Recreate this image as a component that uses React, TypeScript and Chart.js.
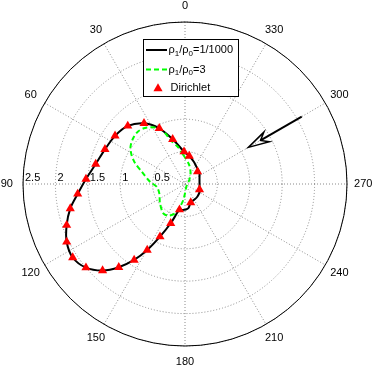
import React, { useEffect, useRef } from 'react';
import { Chart, registerables } from 'chart.js';

Chart.register(...registerables);

// ---------- axis definitions ----------
const ANGLE_TICKS = [0, 30, 60, 90, 120, 150, 180, 210, 240, 270, 300, 330];
const ANGLE_TICK_LABELS = ['0', '30', '60', '90', '120', '150', '180', '210', '240', '270', '300', '330'];
const RADIUS_TICKS = [0.5, 1, 1.5, 2, 2.5];
const RADIUS_TICK_LABELS = ['0.5', '1', '1.5', '2', '2.5'];
const R_MAX = 2.5;

// ---------- series ----------
const SERIES_LABELS = ['ρ_1/ρ_0=1/1000', 'ρ_1/ρ_0=3', 'Dirichlet'];

// rho1/rho0 = 1/1000 (black solid), angle in degrees, radius
const lowTheta = [1.7, 15.4, 24.8, 34.0, 44.6, 55.5, 66.6, 77.4, 87.1, 95.3, 102.1, 109.2, 116.1, 123.2, 130.2, 136.4, 141.5, 146.2, 150.2, 154.6, 160.0, 167.9, 173.7, 182.2, 188.3, 197.2, 213.7, 225.0, 240.0, 249.0, 270.0, 290.0, 310.0, 328.6, 337.8, 351.3];
const lowR = [0.499, 0.716, 0.947, 1.131, 1.258, 1.310, 1.346, 1.412, 1.530, 1.663, 1.811, 1.934, 2.033, 2.071, 2.001, 1.845, 1.642, 1.411, 1.174, 0.900, 0.645, 0.406, 0.402, 0.394, 0.374, 0.299, 0.280, 0.272, 0.258, 0.240, 0.224, 0.238, 0.288, 0.326, 0.367, 0.437];

// rho1/rho0 = 3 (green dashed)
const highTheta = [3.3, 10.7, 17.4, 20.5, 23.4, 27.9, 35.5, 41.8, 48.8, 55.8, 61.5, 67.2, 74.1, 86.3, 95.5, 110.0, 127.7, 143.5, 152.2, 161.2, 167.6, 174.0, 180.0, 216.6, 313.2, 335.3, 349.2];
const highR = [0.449, 0.581, 0.696, 0.807, 0.908, 0.987, 1.062, 1.087, 1.066, 1.017, 0.939, 0.837, 0.695, 0.541, 0.439, 0.422, 0.488, 0.563, 0.553, 0.478, 0.359, 0.248, 0.144, 0.039, 0.091, 0.204, 0.314];

// Dirichlet (red triangles)
const dirTheta = [1.7, 15.4, 24.8, 34.0, 44.6, 55.5, 66.6, 77.4, 87.1, 95.3, 102.1, 109.2, 116.1, 123.2, 130.2, 136.4, 141.5, 146.2, 150.2, 154.6, 160.0, 167.9, 197.2, 249.0, 314.5, 351.3];
const dirR = [0.499, 0.716, 0.947, 1.131, 1.258, 1.310, 1.346, 1.412, 1.530, 1.663, 1.811, 1.934, 2.033, 2.071, 2.001, 1.845, 1.642, 1.411, 1.174, 0.900, 0.645, 0.406, 0.299, 0.240, 0.271, 0.437];

// incident direction arrow (polar)
const ARROW_THETA = 300;
const ARROW_R_TAIL = 2.08;
const ARROW_R_TIP = 1.13;

const FONT = '"Liberation Sans", Arial, Helvetica, sans-serif';

function toXY(thetaDeg: number, r: number) {
  const a = (thetaDeg * Math.PI) / 180;
  return { x: -r * Math.sin(a), y: r * Math.cos(a) };
}

function closedPath(th: number[], rr: number[]) {
  const pts = th.map((t, i) => toXY(t, rr[i]));
  pts.push(pts[0]);
  return pts;
}

function openPoints(th: number[], rr: number[]) {
  return th.map((t, i) => toXY(t, rr[i]));
}

// draw text with "_x" subscripts
function drawRich(ctx: CanvasRenderingContext2D, text: string, x: number, y: number) {
  let cx = x;
  let i = 0;
  while (i < text.length) {
    const ch = text[i];
    if (ch === '_' && i + 1 < text.length) {
      ctx.font = `8px ${FONT}`;
      ctx.fillText(text[i + 1], cx, y + 3.5);
      cx += ctx.measureText(text[i + 1]).width;
      i += 2;
    } else {
      ctx.font = `11px ${FONT}`;
      ctx.fillText(ch, cx, y);
      cx += ctx.measureText(ch).width;
      i += 1;
    }
  }
}

const polarGrid = {
  id: 'polarGrid',
  beforeDatasetsDraw(chart: any) {
    const { ctx } = chart;
    const xs = chart.scales.x;
    const ys = chart.scales.y;
    const P = (v: { x: number; y: number }) => ({ x: xs.getPixelForValue(v.x), y: ys.getPixelForValue(v.y) });
    const c = P({ x: 0, y: 0 });
    const unit = xs.getPixelForValue(1) - c.x;
    ctx.save();
    // dotted rings
    ctx.strokeStyle = '#8a8a8a';
    ctx.lineWidth = 1;
    ctx.setLineDash([1, 2]);
    RADIUS_TICKS.forEach((r) => {
      ctx.beginPath();
      ctx.arc(c.x, c.y, r * unit, 0, Math.PI * 2);
      ctx.stroke();
    });
    // dotted spokes (full diameters)
    ANGLE_TICKS.filter((t) => t < 180).forEach((t) => {
      const a = P(toXY(t, R_MAX));
      const b = P(toXY(t + 180, R_MAX));
      ctx.beginPath();
      ctx.moveTo(a.x, a.y);
      ctx.lineTo(b.x, b.y);
      ctx.stroke();
    });
    // outer solid circle
    ctx.setLineDash([]);
    ctx.strokeStyle = '#000';
    ctx.lineWidth = 1;
    ctx.beginPath();
    ctx.arc(c.x, c.y, R_MAX * unit, 0, Math.PI * 2);
    ctx.stroke();
    // angle labels
    ctx.fillStyle = '#000';
    ctx.font = `11px ${FONT}`;
    ctx.textAlign = 'center';
    ctx.textBaseline = 'middle';
    ANGLE_TICKS.forEach((t, i) => {
      const p = P(toXY(t, R_MAX * 1.1));
      ctx.fillText(ANGLE_TICK_LABELS[i], p.x, p.y);
    });
    // radius labels along the 90 deg direction
    ctx.textAlign = 'left';
    ctx.textBaseline = 'alphabetic';
    RADIUS_TICKS.forEach((r, i) => {
      const p = P(toXY(90, r));
      ctx.fillText(RADIUS_TICK_LABELS[i], p.x + 2, c.y - 3);
    });
    ctx.restore();
  },
};

const overlay = {
  id: 'overlay',
  afterDatasetsDraw(chart: any) {
    const { ctx } = chart;
    const xs = chart.scales.x;
    const ys = chart.scales.y;
    const P = (v: { x: number; y: number }) => ({ x: xs.getPixelForValue(v.x), y: ys.getPixelForValue(v.y) });
    ctx.save();

    // arrow
    const tip = P(toXY(ARROW_THETA, ARROW_R_TIP));
    const tail = P(toXY(ARROW_THETA, ARROW_R_TAIL));
    const len = Math.hypot(tail.x - tip.x, tail.y - tip.y);
    const ux = (tail.x - tip.x) / len;
    const uy = (tail.y - tip.y) / len;
    const nx = -uy;
    const ny = ux;
    const L = 21;
    const Wd = 5.5;
    const back = 14;
    const b1 = { x: tip.x + ux * L + nx * Wd, y: tip.y + uy * L + ny * Wd };
    const b2 = { x: tip.x + ux * L - nx * Wd, y: tip.y + uy * L - ny * Wd };
    const bk = { x: tip.x + ux * back, y: tip.y + uy * back };
    ctx.strokeStyle = '#000';
    ctx.lineWidth = 2;
    ctx.beginPath();
    ctx.moveTo(tail.x, tail.y);
    ctx.lineTo(bk.x, bk.y);
    ctx.stroke();
    ctx.lineWidth = 1.5;
    ctx.lineJoin = 'miter';
    ctx.beginPath();
    ctx.moveTo(tip.x, tip.y);
    ctx.lineTo(b1.x, b1.y);
    ctx.lineTo(bk.x, bk.y);
    ctx.lineTo(b2.x, b2.y);
    ctx.closePath();
    ctx.stroke();

    // legend box
    const bx = 143.5, by = 39.5, bw = 95, bh = 57;
    ctx.fillStyle = '#fff';
    ctx.fillRect(bx, by, bw, bh);
    ctx.strokeStyle = '#000';
    ctx.lineWidth = 1;
    ctx.strokeRect(bx, by, bw, bh);
    const rows = [50, 69.5, 87.5];
    chart.data.datasets.forEach((ds: any, i: number) => {
      const yy = rows[i];
      ctx.save();
      if (ds.showLine) {
        ctx.strokeStyle = ds.borderColor;
        ctx.lineWidth = ds.borderWidth;
        ctx.setLineDash(ds.borderDash || []);
        ctx.beginPath();
        ctx.moveTo(146, yy);
        ctx.lineTo(167, yy);
        ctx.stroke();
      } else {
        ctx.fillStyle = ds.backgroundColor;
        const r = ds.pointRadius;
        const cx = 158, cy = yy + 1;
        ctx.beginPath();
        ctx.moveTo(cx, cy - r);
        ctx.lineTo(cx + r * Math.sin((2 * Math.PI) / 3), cy - r * Math.cos((2 * Math.PI) / 3));
        ctx.lineTo(cx - r * Math.sin((2 * Math.PI) / 3), cy - r * Math.cos((2 * Math.PI) / 3));
        ctx.closePath();
        ctx.fill();
      }
      ctx.restore();
      ctx.fillStyle = '#000';
      ctx.textAlign = 'left';
      ctx.textBaseline = 'middle';
      drawRich(ctx, ds.label, ds.showLine ? 168.5 : 170.5, yy);
    });
    ctx.restore();
  },
};

export default function App() {
  const ref = useRef<HTMLCanvasElement>(null);
  useEffect(() => {
    const chart = new Chart(ref.current as HTMLCanvasElement, {
      type: 'scatter',
      data: {
        datasets: [
          {
            label: SERIES_LABELS[0],
            data: closedPath(lowTheta, lowR),
            showLine: true,
            borderColor: '#000000',
            borderWidth: 2,
            pointRadius: 0,
            tension: 0.3,
            order: 3,
            clip: false,
          } as any,
          {
            label: SERIES_LABELS[1],
            data: closedPath(highTheta, highR),
            showLine: true,
            borderColor: '#00ff00',
            borderWidth: 2,
            borderDash: [5, 3],
            pointRadius: 0,
            tension: 0.3,
            order: 2,
            clip: false,
          } as any,
          {
            label: SERIES_LABELS[2],
            data: openPoints(dirTheta, dirR),
            showLine: false,
            pointStyle: 'triangle',
            pointRadius: 5.3,
            backgroundColor: '#ff0000',
            borderColor: '#ff0000',
            borderWidth: 0,
            order: 1,
            clip: false,
          } as any,
        ],
      },
      options: {
        responsive: false,
        maintainAspectRatio: false,
        animation: false,
        events: [],
        layout: { padding: { left: 23, top: 22, right: 26, bottom: 21 } },
        scales: {
          x: { type: 'linear', min: -R_MAX, max: R_MAX, display: false },
          y: { type: 'linear', min: -R_MAX, max: R_MAX, display: false },
        },
        plugins: { legend: { display: false }, tooltip: { enabled: false } },
      },
      plugins: [polarGrid, overlay],
    });
    return () => chart.destroy();
  }, []);
  return (
    <div style={{ position: 'fixed', left: 0, top: 0, width: 373, height: 367, background: '#fff' }}>
      <canvas ref={ref} width={373} height={367} style={{ width: '373px', height: '367px', display: 'block' }} />
    </div>
  );
}
